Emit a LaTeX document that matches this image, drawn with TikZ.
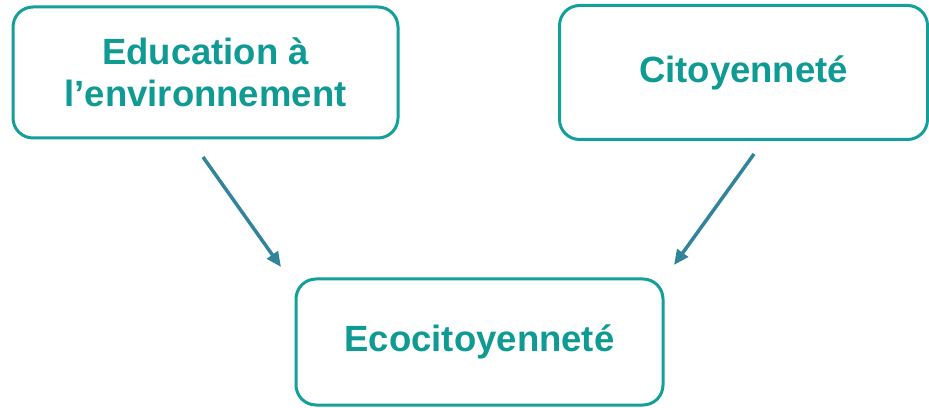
\documentclass[tikz,border=0pt]{standalone}
\usepackage{fontspec}
\setmainfont{Liberation Sans}
\usetikzlibrary{arrows.meta}
\definecolor{tealtext}{HTML}{0F9A93}
\definecolor{tealbox}{HTML}{14A09A}
\definecolor{arrowcol}{HTML}{31849B}
\begin{document}
\begin{tikzpicture}[x=1pt,y=1pt,
  box/.style={draw=tealbox, line width=3pt, rounded corners=20pt, inner sep=0pt,
    align=center, font=\fontsize{36.5}{42}\selectfont\bfseries, text=tealtext},
  conn/.style={draw=arrowcol, line width=3.5pt, -{Triangle[length=15pt,width=13pt]}}]
\useasboundingbox (0,0) rectangle (929,407);
\node[box, minimum width=385pt, minimum height=131pt] (edu) at (205.5,334.5) {Education à\\l’environnement};
\node[box, minimum width=368pt, minimum height=134pt] (cit) at (743.5,334.5) {Citoyenneté};
\node[box, minimum width=367pt, minimum height=126pt] (eco) at (479.5,65) {Ecocitoyenneté};
\coordinate (a1s) at (203,250);
\coordinate (a1e) at (281,140);
\coordinate (a2s) at (754,253);
\coordinate (a2e) at (674,142);
\draw[conn] (a1s) -- (a1e);
\draw[conn] (a2s) -- (a2e);
\end{tikzpicture}
\end{document}
